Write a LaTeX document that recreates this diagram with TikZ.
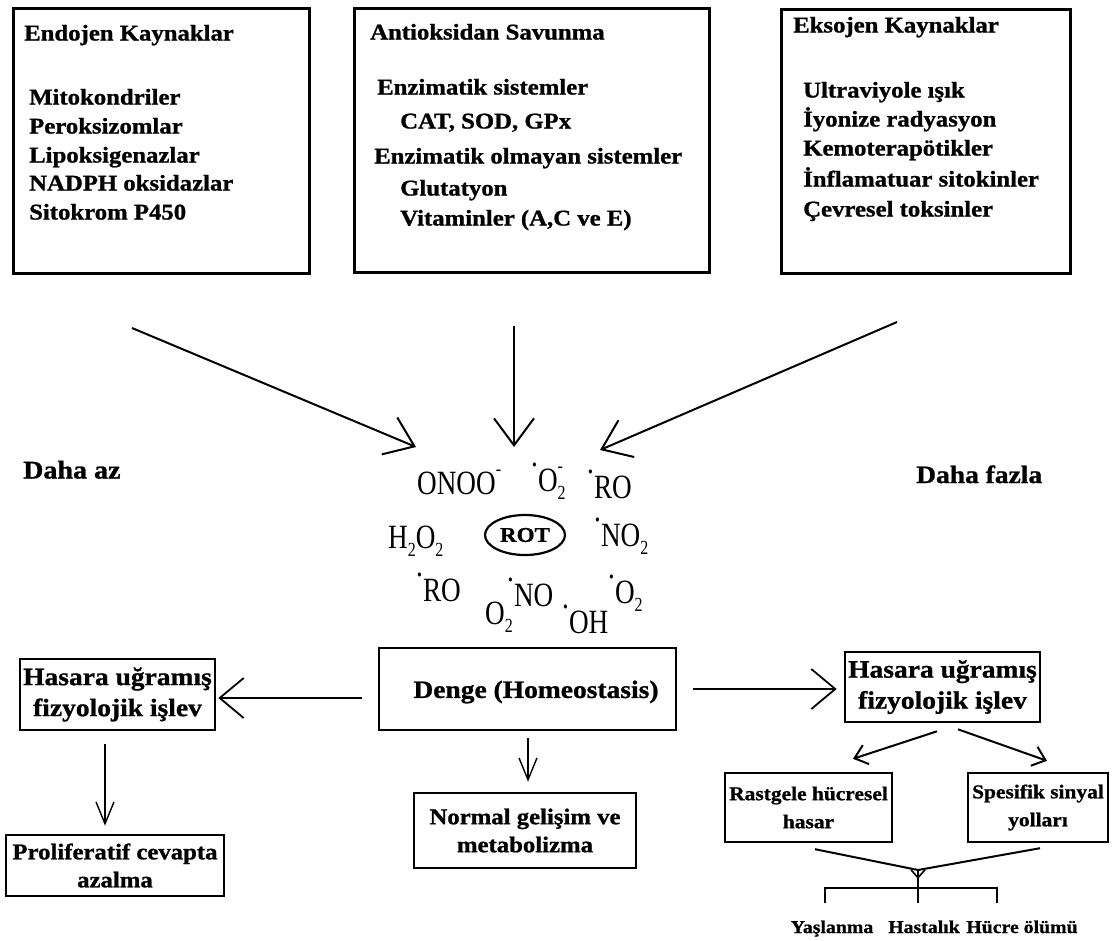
\documentclass[tikz,border=0pt]{standalone}
\usepackage{fontspec}
\setmainfont{Liberation Serif}[FakeStretch=1.1,BoldFeatures={FakeBold=1}]
\newfontfamily\chemfont{Liberation Serif}[FakeStretch=0.8]
\usetikzlibrary{arrows.meta,shapes.geometric}
\newcommand\chsub[1]{\smash{\raisebox{-0.25em}{\fontsize{20}{20}\selectfont #1}}}
\newcommand\chsup{\smash{\raisebox{0.55em}{\fontsize{20}{20}\selectfont -}}}
\newcommand\chdot{\smash{\raisebox{0.72em}{.}}}
\tikzset{
  frame/.style={draw, line width=2.6pt, inner sep=0pt, align=center},
  toptxt/.style={anchor=base west, inner sep=0pt, font=\bfseries\fontsize{22.5}{28}\selectfont},
  dahatxt/.style={anchor=base west, inner sep=0pt, font=\bfseries\fontsize{25.5}{30}\selectfont},
  endtxt/.style={anchor=base, inner sep=0pt, font=\bfseries\fontsize{18}{22}\selectfont},
  chem/.style={anchor=base west, inner sep=0pt, font=\chemfont\fontsize{34}{34}\selectfont},
  bigarr/.style={line width=2pt, -{Straight Barb[length=27pt,width=40pt]}},
  medarr/.style={line width=1.8pt, -{Straight Barb[length=24pt,width=40pt]}},
  smallarr/.style={line width=1.4pt, -{Straight Barb[length=22pt,width=18pt]}},
  treearr/.style={line width=2pt, -{Straight Barb[length=12pt,width=20pt]}},
  tinyarr/.style={line width=1.6pt, -{Straight Barb[length=8pt,width=14pt]}},
  plainln/.style={line width=2pt},
}
\begin{document}
\begin{tikzpicture}[x=1pt,y=-1pt]
\useasboundingbox (0,0) rectangle (1113,940);
% top boxes
\node[frame, anchor=north west, minimum width=296pt, minimum height=265pt] (endo) at (12,7) {};
\node[frame, anchor=north west, minimum width=355pt, minimum height=264pt] (anti) at (353,7) {};
\node[frame, anchor=north west, minimum width=289pt, minimum height=264pt] (ekso) at (780,8) {};
% box 1 text
\node[toptxt] (e0) at (24,40.5) {Endojen Kaynaklar};
\node[toptxt] (e1) at (29,104.5) {Mitokondriler};
\node[toptxt] (e2) at (29,133.5) {Peroksizomlar};
\node[toptxt] (e3) at (29,162.5) {Lipoksigenazlar};
\node[toptxt] (e4) at (29,190.5) {NADPH oksidazlar};
\node[toptxt] (e5) at (29,219.5) {Sitokrom P450};
% box 2 text
\node[toptxt] (s0) at (370,39.5) {Antioksidan Savunma};
\node[toptxt] (s1) at (377,94.5) {Enzimatik sistemler};
\node[toptxt] (s2) at (400,128.5) {CAT, SOD, GPx};
\node[toptxt] (s3) at (374,163.5) {Enzimatik olmayan sistemler};
\node[toptxt] (s4) at (400,195.5) {Glutatyon};
\node[toptxt] (s5) at (400,225.5) {Vitaminler (A,C ve E)};
% box 3 text
\node[toptxt] (x0) at (793,32.5) {Eksojen Kaynaklar};
\node[toptxt] (x1) at (803,97.5) {Ultraviyole ışık};
\node[toptxt] (x2) at (803,126.5) {İyonize radyasyon};
\node[toptxt] (x3) at (803,155.5) {Kemoterapötikler};
\node[toptxt] (x4) at (803,186.5) {İnflamatuar sitokinler};
\node[toptxt] (x5) at (803,216.5) {Çevresel toksinler};
% side labels
\node[dahatxt] (az) at (23,478.5) {Daha az};
\node[font=\bfseries\fontsize{25}{30}\selectfont, anchor=base west, inner sep=0pt] (fazla) at (916,483) {Daha fazla};
% top arrows
\coordinate (a1s) at (132,328); \coordinate (a1e) at (416,447);
\coordinate (a2s) at (514,326); \coordinate (a2e) at (514,447);
\coordinate (a3s) at (897,322); \coordinate (a3e) at (600,450);
\draw[bigarr] (a1s) -- (a1e);
\draw[bigarr] (a2s) -- (a2e);
\draw[bigarr] (a3s) -- (a3e);
% ROS species
\node[chem] (f1) at (417,494) {ONOO\chsup};
\node[chem] (f2) at (531,491) {\chdot O\rlap{\chsub{2}}\chsup};
\node[chem] (f3) at (587,498) {\chdot RO};
\node[chem] (f4) at (388,548) {H\chsub{2}O\chsub{2}};
\node[chem] (f5) at (594,546) {\chdot NO\chsub{2}};
\node[chem] (f6) at (416,601) {\chdot RO};
\node[chem] (f7) at (485,624) {O\chsub{2}};
\node[chem] (f8) at (507,606) {\chdot NO};
\node[chem] (f9) at (562,633) {\chdot OH};
\node[chem] (f10) at (608,603) {\chdot O\chsub{2}};
\node[draw, ellipse, line width=2.2pt, minimum width=80pt, minimum height=40pt, inner sep=0pt,
      font=\bfseries\fontsize{21}{21}\selectfont] (rot) at (525,535) {ROT};
% middle row
\node[frame, minimum width=297pt, minimum height=82pt] (denge) at (527.5,689) {};
\node[inner sep=0pt, font=\bfseries\fontsize{25}{30}\selectfont] (dengetxt) at (536,692) {Denge (Homeostasis)};
\node[frame, minimum width=195pt, minimum height=71pt, font=\bfseries\fontsize{25}{31}\selectfont] (lhas) at (117.5,694.5) {Hasara uğramış\\fizyolojik işlev};
\node[frame, minimum width=195pt, minimum height=70pt, font=\bfseries\fontsize{25}{31}\selectfont] (rhas) at (942.5,687) {Hasara uğramış\\fizyolojik işlev};
\node[frame, minimum width=218pt, minimum height=61pt, font=\bfseries\fontsize{22.5}{28}\selectfont] (prolif) at (115,865.5) {Proliferatif cevapta\\azalma};
\node[frame, minimum width=222pt, minimum height=75pt, font=\bfseries\fontsize{22.5}{28}\selectfont] (normal) at (525,830.5) {Normal gelişim ve\\metabolizma};
\node[frame, line width=2.4pt, minimum width=167pt, minimum height=69pt, font=\bfseries\fontsize{19.5}{28}\selectfont] (rast) at (808.5,807.5) {Rastgele hücresel\\hasar};
\node[frame, line width=2.4pt, minimum width=140pt, minimum height=69pt, font=\bfseries\fontsize{19.5}{28}\selectfont] (spes) at (1038,807.5) {Spesifik sinyal\\yolları};
% middle arrows
\draw[medarr] ([shift={(-16,9)}]denge.west) -- ([shift={(2,3.5)}]lhas.east);
\draw[medarr] ([xshift=16pt]denge.east) -- ([shift={(-7,2)}]rhas.west);
\draw[smallarr] ([shift={(-12.5,13)}]lhas.south) -- ([shift={(-10,-8)}]prolif.north);
\draw[smallarr] ([shift={(0.5,7)}]denge.south) -- ([shift={(3,-10)}]normal.north);
\draw[treearr] ([shift={(-5.5,8)}]rhas.south) -- ([shift={(44.5,-13)}]rast.north);
\draw[treearr] ([shift={(15.5,6)}]rhas.south) -- ([shift={(9,-11)}]spes.north);
% merge and bracket
\coordinate (m) at (918,870);
\coordinate (mt) at (918,879);
\coordinate (bt) at (918,888);
\coordinate (bl) at (825,903);
\coordinate (bm) at (918,903);
\coordinate (br) at (997,903);
\draw[plainln] ([shift={(6.5,6)}]rast.south) -- (m);
\draw[plainln] ([shift={(2,5)}]spes.south) -- (m);
\draw[plainln] (m) -- (bt);
\draw[tinyarr] (m) -- (mt);
\draw[plainln] (bl) |- (bt) -| (br);
\draw[plainln] (bt) -- (bm);
\node[endtxt] (y1) at (832,933) {Yaşlanma};
\node[endtxt] (y2) at (924,933) {Hastalık};
\node[endtxt] (y3) at (1022,933) {Hücre ölümü};
\end{tikzpicture}
\end{document}
